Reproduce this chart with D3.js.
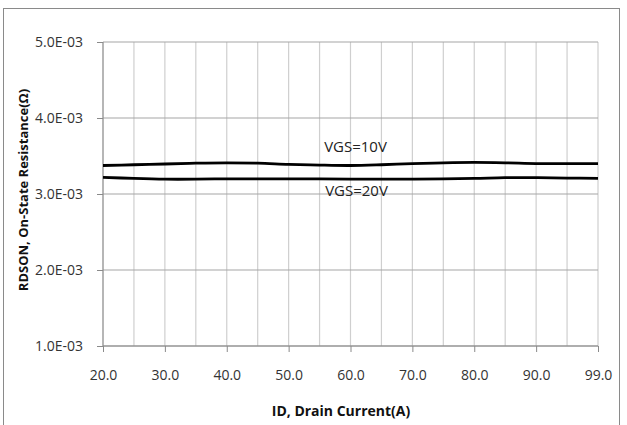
<!DOCTYPE html>
<html>
<head>
<meta charset="utf-8">
<script src="https://cdn.jsdelivr.net/npm/d3@7"></script>
<style>
body { margin: 0; background: #fff; }
text { font-family: "Open Sans", "Noto Sans", sans-serif; }
</style>
</head>
<body>
<div id="chart"></div>
<script>
// drain current categories (A)
let currents = [20, 25, 30, 35, 40, 45, 50, 55, 60, 65, 70, 75, 80, 85, 90, 95, 99];
let tickCurrents = [20, 30, 40, 50, 60, 70, 80, 90, 99];
// on-state resistance, ohm
let rdsVgs10 = [3.375e-3, 3.385e-3, 3.395e-3, 3.405e-3, 3.41e-3, 3.405e-3, 3.39e-3, 3.38e-3, 3.375e-3,
	3.385e-3, 3.40e-3, 3.41e-3, 3.415e-3, 3.41e-3, 3.40e-3, 3.40e-3, 3.40e-3];
let rdsVgs20 = [3.22e-3, 3.205e-3, 3.195e-3, 3.195e-3, 3.2e-3, 3.2e-3, 3.2e-3, 3.198e-3, 3.195e-3,
	3.195e-3, 3.195e-3, 3.2e-3, 3.205e-3, 3.215e-3, 3.215e-3, 3.21e-3, 3.205e-3];
let yTicks = [1e-3, 2e-3, 3e-3, 4e-3, 5e-3];
let seriesLabels = ["VGS=10V", "VGS=20V"];

let width = 627, height = 425;
let margin = {top: 42, right: 29, bottom: 79, left: 103};

let svg = d3.select("#chart").append("svg")
	.attr("width", width)
	.attr("height", height);

// outer chart frame
svg.append("rect")
	.attr("x", 3.5).attr("y", 8.5)
	.attr("width", 616).attr("height", 440)
	.attr("fill", "none")
	.attr("stroke", "#8a8a8a");

let x = d3.scalePoint()
	.domain(currents)
	.range([margin.left, width - margin.right]);

let y = d3.scaleLinear()
	.domain([1e-3, 5e-3])
	.range([height - margin.bottom, margin.top]);

// vertical gridlines, one per category
svg.append("g").selectAll("line")
	.data(currents).enter().append("line")
	.attr("x1", d => x(d)).attr("x2", d => x(d))
	.attr("y1", y(5e-3)).attr("y2", y(1e-3))
	.attr("stroke", "#cfcfcf")
	.attr("stroke-width", 1.2);

// horizontal gridlines
svg.append("g").selectAll("line")
	.data(yTicks).enter().append("line")
	.attr("x1", x(20)).attr("x2", x(99))
	.attr("y1", d => y(d)).attr("y2", d => y(d))
	.attr("stroke", "#a6a6a6")
	.attr("stroke-width", 1.2);

// y axis
let yAxis = svg.append("g")
	.attr("transform", "translate(" + margin.left + ",0)")
	.call(d3.axisLeft(y).tickValues(yTicks).tickSize(6).tickPadding(14)
		.tickFormat(d => d3.format(".1e")(d).replace(/e-(\d)$/, "E-0$1").replace("e", "E")));
yAxis.selectAll("line, path").attr("stroke", "#8a8a8a");
yAxis.select(".domain").attr("d", "M0," + y(5e-3) + "V" + y(1e-3));
yAxis.selectAll("text").attr("font-size", 14).attr("fill", "#333");

// x axis
let xAxis = svg.append("g")
	.attr("transform", "translate(0," + y(1e-3) + ")")
	.call(d3.axisBottom(x).tickValues(tickCurrents).tickSize(6).tickPadding(18)
		.tickFormat(d => d3.format(".1f")(d)));
xAxis.selectAll("line, path").attr("stroke", "#8a8a8a");
xAxis.select(".domain").attr("d", "M" + x(20) + ",0H" + x(99));
xAxis.selectAll("text").attr("font-size", 14).attr("fill", "#333");

let line = d3.line()
	.x((d, i) => x(currents[i]))
	.y(d => y(d))
	.curve(d3.curveCatmullRom);

[rdsVgs10, rdsVgs20].forEach(function(s){
	svg.append("path")
		.datum(s)
		.attr("d", line)
		.attr("fill", "none")
		.attr("stroke", "#000")
		.attr("stroke-width", 2.8);
});

// series labels
svg.append("text")
	.attr("x", x(60) + 5).attr("y", y(3.55e-3))
	.attr("text-anchor", "middle")
	.attr("font-size", 15).attr("fill", "#222")
	.text(seriesLabels[0]);
svg.append("text")
	.attr("x", x(60) + 6).attr("y", y(3.0e-3) + 2)
	.attr("text-anchor", "middle")
	.attr("font-size", 15).attr("fill", "#222")
	.text(seriesLabels[1]);

// axis titles
svg.append("text")
	.attr("x", 341).attr("y", 416)
	.attr("text-anchor", "middle")
	.attr("font-size", 14).attr("font-weight", "bold").attr("fill", "#111")
	.text("ID, Drain Current(A)");

svg.append("text")
	.attr("transform", "translate(28,190) rotate(-90)")
	.attr("text-anchor", "middle")
	.attr("font-size", 13).attr("font-weight", "bold").attr("fill", "#111")
	.text("RDSON, On-State Resistance(Ω)");
</script>
</body>
</html>
